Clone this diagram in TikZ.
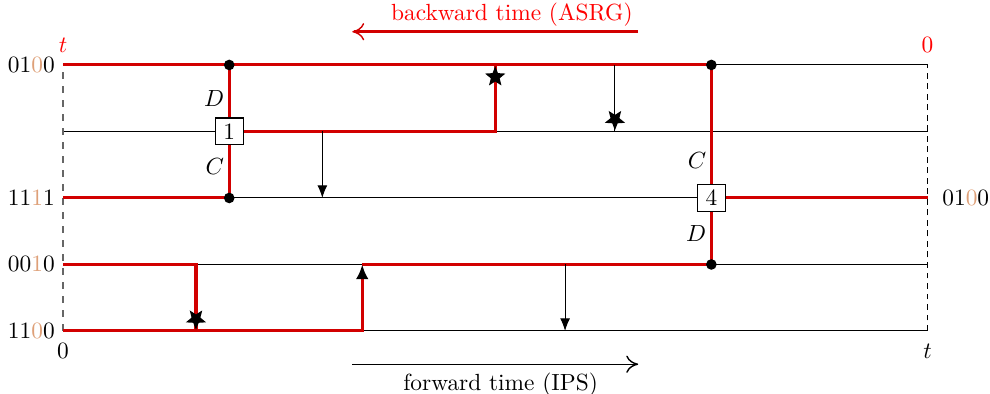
\documentclass[tikz,border=0pt]{standalone}
\usepackage{xcolor}
\usepackage{tikz}
\usetikzlibrary{arrows.meta, positioning, shapes.geometric}
\definecolor{lineage}{RGB}{210,0,0}
\definecolor{mutbit}{RGB}{222,160,120}
\newcommand{\bits}[4]{#1#2\textcolor{mutbit}{#3}#4}

\begin{document}
\begin{tikzpicture}[
  base/.style={line width=0.45pt},
  anc/.style={lineage, line width=1.3pt},
  evt/.style={draw, fill=white, line width=0.5pt, inner xsep=3.5pt, inner ysep=2.4pt},
  jn/.style={circle, fill=black, inner sep=0pt, minimum size=0.16cm},
  startip/.style={star, star points=5, star point ratio=2.3, fill=black, inner sep=0pt, minimum size=0.32cm},
  tri/.style={-{Latex[length=1.9mm, width=1.5mm]}},
  bigtri/.style={-{Latex[length=2.2mm, width=1.9mm, color=black]}},
  barb/.style={-{To[line width=0.6pt, length=1.8mm, width=2.6mm]}},
  lab/.style={inner sep=2pt},
]
\useasboundingbox (-0.947,-0.947) rectangle (13.94,4.977);
% the five sites, bottom to top
\foreach \i in {0,...,4} {
  \coordinate (s\i) at (0,\i);
  \coordinate (e\i) at (13,\i);
  \draw[base] (s\i) -- (e\i);
}
\draw[dashed, gray!80!black, thick] (s0) -- (s4);
\draw[base, dash pattern=on 2.5pt off 2pt] (e0) -- (e4);

% branching events
\coordinate (j1t) at (2.5,4);
\coordinate (j1b) at (2.5,2);
\coordinate (j4t) at (9.75,4);
\coordinate (j4b) at (9.75,1);
\node[evt] (b1) at (2.5,3) {1};
\node[evt] (b4) at (9.75,2) {4};

% jumps between sites
\coordinate (u1) at (6.5,3);   \coordinate (u1e) at (6.5,4);
\coordinate (u2) at (8.3,4);   \coordinate (u2e) at (8.3,3);
\coordinate (u3) at (2,1);     \coordinate (u3e) at (2,0);
\coordinate (v1) at (3.9,3);   \coordinate (v1e) at (3.9,2);
\coordinate (v2) at (4.5,0);   \coordinate (v2e) at (4.5,1);
\coordinate (v3) at (7.55,1);  \coordinate (v3e) at (7.55,0);

% ancestral lineages
\draw[anc] (s4) -- (j4t);
\draw[anc] (j1t) -- (b1);
\draw[anc] (s2) -- (j1b) -- (b1);
\draw[anc] (b1) -- (u1) -- (u1e);
\draw[anc] (j4t) -- (b4) -- (e2);
\draw[anc] (b4) -- (j4b) -- (v2e);
\draw[anc, bigtri] (s0) -- (v2) -- (v2e);
\draw[anc] (s1) -- (u3) -- (u3e);

\draw[base, tri] (v1) -- (v1e);
\draw[base, tri] (v3) -- (v3e);
\draw[base] (u2) -- (u2e);

\node[startip, anchor=outer point 1] (st1) at (u1e) {};
\node[startip, rotate=180, anchor=outer point 1] (st2) at (u2e) {};
\node[startip, rotate=180, anchor=outer point 1] (st3) at (u3e) {};

\foreach \p in {j1t,j1b,j4t,j4b}
  \node[jn] (\p-dot) at (\p) {};

\node[lab, anchor=east] (D1) at (2.5,3.5) {$D$};
\node[lab, anchor=east] (C1) at (2.5,2.47) {$C$};
\node[lab, anchor=east] (C4) at (9.75,2.57) {$C$};
\node[lab, anchor=east] (D4) at (9.75,1.47) {$D$};

% types
\node[anchor=east] (l4) at (s4) {\bits0100};
\node[anchor=east] (l2) at (s2) {\bits1111};
\node[anchor=east] (l1) at (s1) {\bits0010};
\node[anchor=east] (l0) at (s0) {\bits1100};
\node[anchor=west, xshift=0.1cm] (r2) at (e2) {\bits0100};

\node[red, anchor=south, yshift=2pt] (tl) at (s4) {$t$};
\node[red, anchor=south, yshift=2pt] (tr) at (e4) {$0$};
\node[anchor=north, yshift=-2pt] (bl) at (s0) {$0$};
\node[anchor=north, yshift=-2pt] (br) at (e0) {$t$};

% time directions
\coordinate (bw1) at (8.65,4.5);
\coordinate (bw0) at (4.35,4.5);
\draw[anc, barb] (bw1) -- (bw0);
\node[red, anchor=south, inner sep=2pt] (bwt) at (6.75,4.5) {backward time (ASRG)};
\coordinate (fw0) at (4.35,-0.5);
\coordinate (fw1) at (8.65,-0.5);
\draw[base, barb] (fw0) -- (fw1);
\node[anchor=north] (fwt) at (6.58,-0.5) {forward time (IPS)};
\end{tikzpicture}
\end{document}
